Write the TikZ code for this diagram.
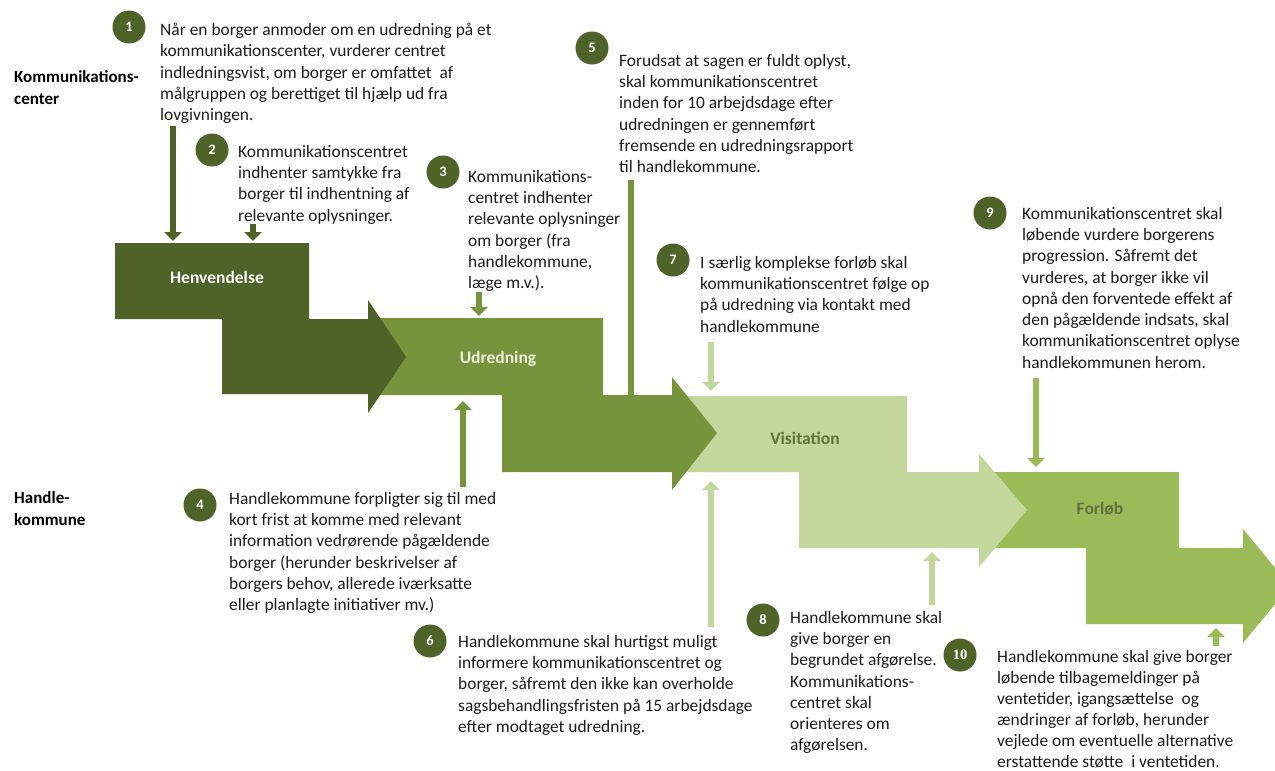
\documentclass[tikz,border=0pt]{standalone}
\usepackage{fontspec}
\setmainfont{Carlito}
\newfontfamily\numserif{Liberation Serif}
\usetikzlibrary{arrows.meta}
\definecolor{gA}{HTML}{4F6228}
\definecolor{gB}{HTML}{77933C}
\definecolor{gC}{HTML}{C3D69B}
\definecolor{gD}{HTML}{9BBB59}
\definecolor{gL}{HTML}{EBF1DE}
\definecolor{txt}{HTML}{1C1C1C}
\begin{document}
\begin{tikzpicture}[x=1pt,y=-1pt,
  body/.style={anchor=north west, inner sep=0pt, align=left, font=\fontsize{17.4}{21.3}\selectfont, text=txt},
  lane/.style={anchor=north west, inner sep=0pt, align=left, font=\fontsize{17}{22}\selectfont\bfseries, text=black},
  num/.style={circle, fill=gA, minimum size=33pt, inner sep=0pt, text=white, font=\fontsize{14.5}{14.5}\selectfont\bfseries},
  conn/.style={line width=6pt, -{Triangle[width=17pt,length=9pt]}},
  stagelabel/.style={font=\fontsize{17.5}{18}\selectfont\bfseries},
]
\useasboundingbox (0,0) rectangle (1275,771);
\fill[white] (0,0) rectangle (1275,771);

% connectors (drawn first, shapes cover their ends)
\coordinate (a1s) at (173,126);  \coordinate (a1e) at (173,241);
\coordinate (a2s) at (253,224);  \coordinate (a2e) at (253,241);
\coordinate (a3s) at (479,292);  \coordinate (a3e) at (479,316);
\coordinate (a4s) at (463,487);  \coordinate (a4e) at (463,401);
\coordinate (a5s) at (631,180);  \coordinate (a5e) at (631,398);
\coordinate (a6s) at (711,627);  \coordinate (a6e) at (711,481);
\coordinate (a7s) at (711,342);  \coordinate (a7e) at (711,391);
\coordinate (a8s) at (932,605);  \coordinate (a8e) at (932,552);
\coordinate (a9s) at (1036,378); \coordinate (a9e) at (1036,467);
\coordinate (a10s) at (1216,646); \coordinate (a10e) at (1216,628);

\draw[conn, gA] (a1s) -- (a1e);
\draw[conn, gA] (a2s) -- (a2e);
\draw[conn, gB] (a3s) -- (a3e);
\draw[conn, gB] (a4s) -- (a4e);
\draw[line width=6pt, gB] (a5s) -- (a5e);
\draw[conn, gC] (a6s) -- (a6e);
\draw[conn, gC] (a7s) -- (a7e);
\draw[conn, gC] (a8s) -- (a8e);
\draw[conn, gD] (a9s) -- (a9e);
\draw[conn, gD] (a10s) -- (a10e);

% stage shapes (reverse order so each arrow head lies on the next stage)
\fill[gD] (979,472) -- (1179,472) -- (1179,548) -- (1243,548) -- (1243,529) -- (1290,586) -- (1243,643) -- (1243,624) -- (1086,624) -- (1086,548) -- (979,548) -- cycle;
\fill[gC] (672,396) -- (907,396) -- (907,472) -- (979,472) -- (979,454) -- (1027,510) -- (979,567) -- (979,548) -- (799,548) -- (799,472) -- (672,472) -- cycle;
\fill[gB] (368,318) -- (603,318) -- (603,395) -- (672,395) -- (672,377) -- (717,433) -- (672,490) -- (672,472) -- (502,472) -- (502,395) -- (368,395) -- cycle;
\fill[gA] (115,243) -- (309,243) -- (309,319) -- (368,319) -- (368,300) -- (406,357) -- (368,413) -- (368,394) -- (222,394) -- (222,319) -- (115,319) -- cycle;

\node[stagelabel, text=white] (henv) at (217,277) {Henvendelse};
\node[stagelabel, text=gL] (udr) at (498,359) {Udredning};
\node[stagelabel, text=gA!90] (vis) at (805,438) {Visitation};
\node[stagelabel, text=gA!90] (forl) at (1100,509) {Forløb};

% lane labels
\node[lane] (lk) at (14,67) {\strut Kommunikations-\\center};
\node[lane] (lh) at (14,488) {\strut Handle-\\kommune};

% numbered circles
\node[num] (n1) at (129,27) {1};
\node[num] (n2) at (212,150) {2};
\node[num] (n3) at (443,172) {3};
\node[num] (n5) at (592,48) {5};
\node[num] (n7) at (673,260) {7};
\node[num] (n9) at (990,213) {9};
\node[num] (n4) at (200,505) {4};
\node[num] (n6) at (430,641) {6};
\node[num] (n8) at (763,620) {8};
\node[num, font=\fontsize{14.5}{14.5}\selectfont\numserif\bfseries] (n10) at (960,655) {10};

% texts
\node[body] (t1) at (160,20.5) {\strut Når en borger anmoder om en udredning på et\\kommunikationscenter, vurderer centret\\indledningsvist, om borger er omfattet\ \ af\\målgruppen og berettiget til hjælp ud fra\\lovgivningen.};
\node[body] (t2) at (238,142) {\strut Kommunikationscentret\\indhenter samtykke fra\\borger til indhentning af\\relevante oplysninger.};
\node[body] (t3) at (468,167) {\strut Kommunikations-\\centret indhenter\\relevante oplysninger\\om borger (fra\\handlekommune,\\læge m.v.).};
\node[body] (t5) at (619,51) {\strut Forudsat at sagen er fuldt oplyst,\\skal kommunikationscentret\\inden for 10 arbejdsdage efter\\udredningen er gennemført\\fremsende en udredningsrapport\\til handlekommune.};
\node[body] (t7) at (700,253) {\strut I særlig komplekse forløb skal\\kommunikationscentret følge op\\på udredning via kontakt med\\handlekommune};
\node[body] (t9) at (1022,204) {\strut Kommunikationscentret skal\\løbende vurdere borgerens\\progression. Såfremt det\\vurderes, at borger ikke vil\\opnå den forventede effekt af\\den pågældende indsats, skal\\kommunikationscentret oplyse\\handlekommunen herom.};
\node[body] (t4) at (229,489) {\strut Handlekommune forpligter sig til med\\kort frist at komme med relevant\\information vedrørende pågældende\\borger (herunder beskrivelser af\\borgers behov, allerede iværksatte\\eller planlagte initiativer mv.)};
\node[body] (t6) at (458,632) {\strut Handlekommune skal hurtigst muligt\\informere kommunikationscentret og\\borger, såfremt den ikke kan overholde\\sagsbehandlingsfristen på 15 arbejdsdage\\efter modtaget udredning.};
\node[body] (t8) at (790,608) {\strut Handlekommune skal\\give borger en\\begrundet afgørelse.\\Kommunikations-\\centret skal\\orienteres om\\afgørelsen.};
\node[body, font=\fontsize{17.4}{21}\selectfont] (t10) at (997,648) {\strut Handlekommune skal give borger\\løbende tilbagemeldinger på\\ventetider, igangsættelse\ \ og\\ændringer af forløb, herunder\\vejlede om eventuelle alternative\\erstattende støtte\ \ i ventetiden.};
\end{tikzpicture}
\end{document}
